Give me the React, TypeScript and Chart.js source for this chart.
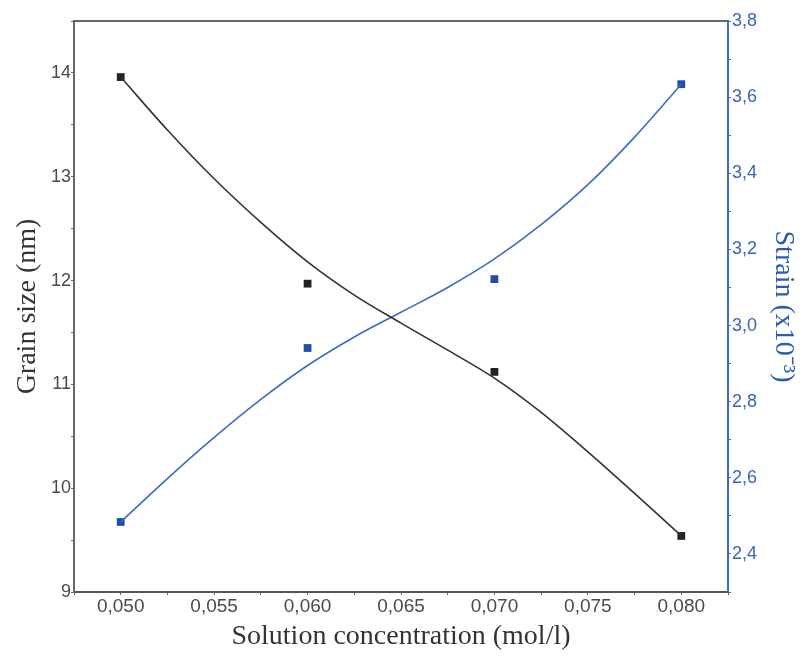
import React, { useEffect, useRef } from "react";
import { Chart, registerables } from "chart.js";

Chart.register(...registerables);

// Measured data points
const concentrations = [0.05, 0.06, 0.07, 0.08];
const grainSize = [13.96, 11.97, 11.12, 9.54];
const strain = [2.484, 2.941, 3.122, 3.634];

// Fitted curves
const fitX = [0.05, 0.0525, 0.055, 0.0575, 0.06, 0.0625, 0.065, 0.0675, 0.07, 0.0725, 0.075, 0.0775, 0.08];
const grainFit = [13.96, 13.45, 12.98, 12.56, 12.18, 11.86, 11.59, 11.33, 11.06, 10.73, 10.35, 9.95, 9.54];
const strainFit = [2.484, 2.598, 2.706, 2.806, 2.895, 2.97, 3.035, 3.1, 3.175, 3.265, 3.37, 3.495, 3.634];

const xTicksMin = 0.0475;
const xTicksMax = 0.0825;
const leftMin = 9;
const leftMax = 14.5;
const rightMin = 2.3;
const rightMax = 3.8;

const BLACK = "#222222";
const BLUE = "#1f4fa5";
const BLUE_LINE = "#3d6cc0";
const GRAY = "#4a4a4a";

export default function App() {
  const ref = useRef<HTMLCanvasElement | null>(null);
  useEffect(() => {
    if (!ref.current) return;
    const topLine = {
      id: "topLine",
      afterDraw(chart: any) {
        const { ctx, chartArea } = chart;
        ctx.save();
        ctx.strokeStyle = "#666666";
        ctx.lineWidth = 2;
        ctx.beginPath();
        ctx.moveTo(chartArea.left - 1, chartArea.top);
        ctx.lineTo(chartArea.right, chartArea.top);
        ctx.stroke();
        ctx.restore();
      },
    };
    const chart = new Chart(ref.current, {
      type: "line",
      data: {
        datasets: [
          {
            label: "Grain size fit",
            data: fitX.map((x, i) => ({ x, y: grainFit[i] })),
            borderColor: "#333333",
            borderWidth: 1.6,
            pointRadius: 0,
            cubicInterpolationMode: "monotone",
            yAxisID: "y",
          },
          {
            label: "Strain fit",
            data: fitX.map((x, i) => ({ x, y: strainFit[i] })),
            borderColor: BLUE_LINE,
            borderWidth: 1.6,
            pointRadius: 0,
            cubicInterpolationMode: "monotone",
            yAxisID: "y2",
          },
          {
            label: "Grain size",
            data: concentrations.map((x, i) => ({ x, y: grainSize[i] })),
            showLine: false,
            pointStyle: "rect",
            pointRadius: 5.5,
            backgroundColor: BLACK,
            borderColor: BLACK,
            borderWidth: 0,
            yAxisID: "y",
          },
          {
            label: "Strain",
            data: concentrations.map((x, i) => ({ x, y: strain[i] })),
            showLine: false,
            pointStyle: "rect",
            pointRadius: 5.5,
            backgroundColor: BLUE,
            borderColor: BLUE,
            borderWidth: 0,
            yAxisID: "y2",
          },
        ],
      },
      options: {
        animation: false,
        responsive: true,
        maintainAspectRatio: false,
        layout: { padding: { top: 21, left: 0, right: 0, bottom: 0 } },
        plugins: { legend: { display: false }, tooltip: { enabled: false } },
        scales: {
          x: {
            type: "linear",
            min: xTicksMin,
            max: xTicksMax,
            afterFit: (s: any) => { s.height = 65; },
            ticks: {
              stepSize: 0.0025,
              autoSkip: false,
              maxRotation: 0,
              padding: 0,
              color: GRAY,
              font: { family: "Liberation Sans", size: 19 },
              callback: (v: any) => {
                const n = Number(v);
                return Math.abs(n * 200 - Math.round(n * 200)) < 1e-6 ? n.toFixed(3).replace(".", ",") : "";
              },
            },
            grid: { drawOnChartArea: false, tickLength: 3, color: "#666666" },
            border: { color: "#555555", width: 2 },
            title: {
              display: true,
              text: "Solution concentration (mol/l)",
              color: "#333333",
              font: { family: "Liberation Serif", size: 28 },
              padding: { top: 0, bottom: 4 },
            },
          },
          y: {
            position: "left",
            min: leftMin,
            max: leftMax,
            afterFit: (s: any) => { s.width = 74; },
            ticks: {
              stepSize: 0.5,
              autoSkip: false,
              padding: 0,
              color: GRAY,
              font: { family: "Liberation Sans", size: 18 },
              callback: (v: any) => (Number.isInteger(Number(v)) ? String(v) : ""),
            },
            grid: { drawOnChartArea: false, tickLength: 3, color: "#666666" },
            border: { color: "#666666", width: 2 },
            title: {
              display: true,
              text: "Grain size (nm)",
              color: "#333333",
              font: { family: "Liberation Serif", size: 28 },
              padding: { top: 11, bottom: 0 },
            },
          },
          y2: {
            position: "right",
            min: rightMin,
            max: rightMax,
            afterFit: (s: any) => { s.width = 82; },
            ticks: {
              stepSize: 0.1,
              autoSkip: false,
              padding: 1,
              color: "#3a64b4",
              font: { family: "Liberation Sans", size: 18 },
              callback: (v: any) => {
                const n = Number(v);
                if (n < 2.35) return "";
                return Math.abs(n * 5 - Math.round(n * 5)) < 1e-6 ? n.toFixed(1).replace(".", ",") : "";
              },
            },
            grid: { drawOnChartArea: false, tickLength: 3, color: BLUE_LINE },
            border: { color: BLUE_LINE, width: 2 },
            title: {
              display: true,
              text: "Strain (x10\u207B\u00B3)",
              color: "#2a5bb0",
              font: { family: "Liberation Serif", size: 28 },
              padding: { top: 10, bottom: 0 },
            },
          },
        },
      },
      plugins: [topLine],
    } as any);
    return () => chart.destroy();
  }, []);
  return (
    <div style={{ position: "fixed", left: 0, top: 0, width: 810, height: 657, background: "#fff" }}>
      <canvas ref={ref} />
    </div>
  );
}
